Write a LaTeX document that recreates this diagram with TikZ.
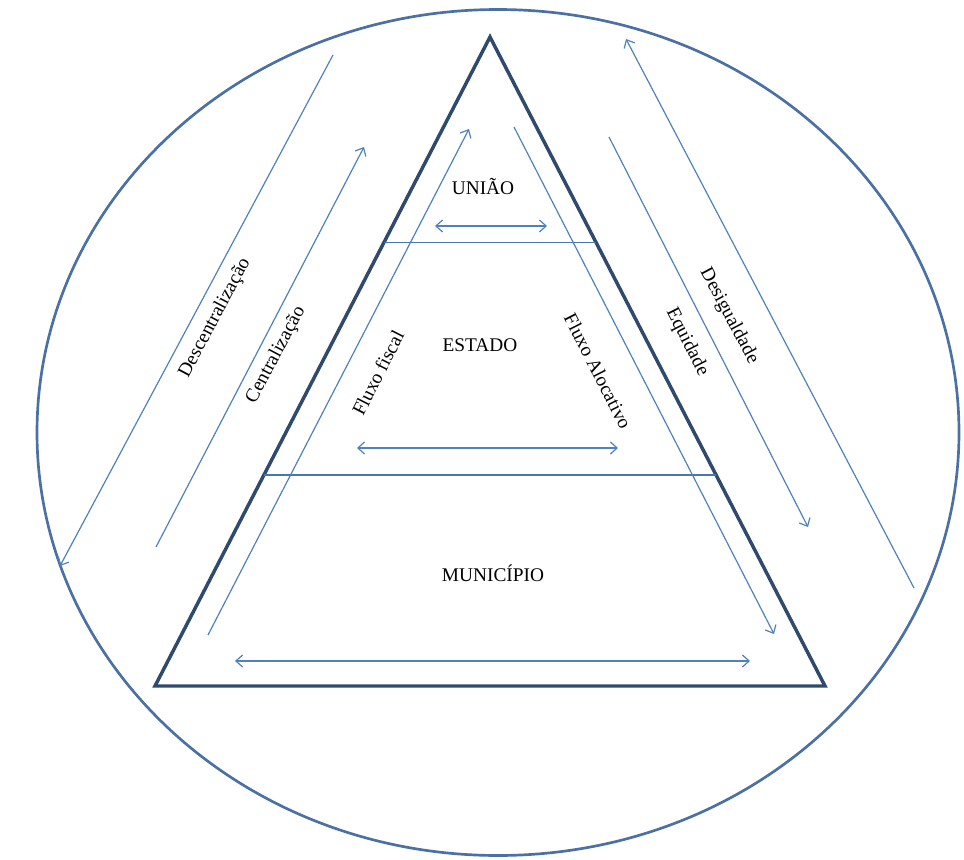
\documentclass[tikz,border=0pt]{standalone}
\usepackage{fontspec}
\setmainfont{Liberation Serif}
\usetikzlibrary{arrows.meta,calc}
\definecolor{navy}{HTML}{2F4A6D}
\definecolor{rimblue}{HTML}{4A70A4}
\definecolor{flowblue}{HTML}{4F81BD}
\tikzset{
  rim/.style={draw=rimblue,line width=2pt},
  pyramid/.style={draw=navy,line width=2.6pt},
  divider/.style={draw=flowblue!80!navy,line width=1.1pt},
  flow/.style={-{Straight Barb[length=5pt,width=9pt]},draw=flowblue,line width=0.9pt},
  both/.style={flow,{Straight Barb[length=5pt,width=9pt]}-{Straight Barb[length=5pt,width=9pt]}},
  level/.style={font=\fontsize{14.5}{17}\selectfont,text=black,inner sep=1pt},
  tag/.style={level}
}

\begin{document}
\begin{tikzpicture}[x=0.75pt,y=-0.75pt]
\useasboundingbox (0,0) rectangle (964,860);
\draw[rim] (498,432.5) ellipse [x radius=461, y radius=423];

\coordinate (apex) at (490,37);
\coordinate (bl) at (155,686);
\coordinate (br) at (825,686);
\draw[pyramid] (apex) -- (bl) -- (br) -- cycle;
\coordinate (u1) at ($(apex)!0.317!(bl)$);
\coordinate (u2) at ($(apex)!0.317!(br)$);
\coordinate (e1) at ($(apex)!0.675!(bl)$);
\coordinate (e2) at ($(apex)!0.675!(br)$);
\draw[divider] (u1) -- (u2);
\draw[divider] (e1) -- (e2);

\node[level] (uniao) at (483,187) {UNIÃO};
\node[level] (estado) at (480,345) {ESTADO};
\node[level] (municipio) at (493,573) {MUNICÍPIO};

\coordinate (ul) at (435,226);
\coordinate (ur) at (547,226);
\coordinate (el) at (357,448);
\coordinate (er) at (618,448);
\coordinate (ml) at (235,661);
\coordinate (mr) at (750,661);
\draw[both] (ul) -- (ur);
\draw[both] (el) -- (er);
\draw[both] (ml) -- (mr);

\coordinate (d1) at (333,55);
\coordinate (d2) at (60,566);
\coordinate (c1) at (156,547);
\coordinate (c2) at (364,147);
\coordinate (f1) at (208,635);
\coordinate (f2) at (469,129);
\coordinate (a1) at (514,127);
\coordinate (a2) at (774,634);
\coordinate (q1) at (609,137);
\coordinate (q2) at (808,527);
\coordinate (g1) at (914,588);
\coordinate (g2) at (626,39);
\draw[flow] (d1) -- (d2);
\draw[flow] (c1) -- (c2);
\draw[flow] (f1) -- (f2);
\draw[flow] (a1) -- (a2);
\draw[flow] (q1) -- (q2);
\draw[flow] (g1) -- (g2);

\node[tag,rotate=62] (descentral) at (215,318) {Descentralização};
\node[tag,rotate=62] (central) at (276,355) {Centralização};
\node[tag,rotate=63] (fiscal) at (378,373) {Fluxo fiscal};
\node[tag,rotate=-63] (alocativo) at (598,371) {Fluxo Alocativo};
\node[tag,rotate=-63] (equidade) at (687,342) {Equidade};
\node[tag,rotate=-62] (desigual) at (729,316) {Desigualdade};
\end{tikzpicture}
\end{document}
